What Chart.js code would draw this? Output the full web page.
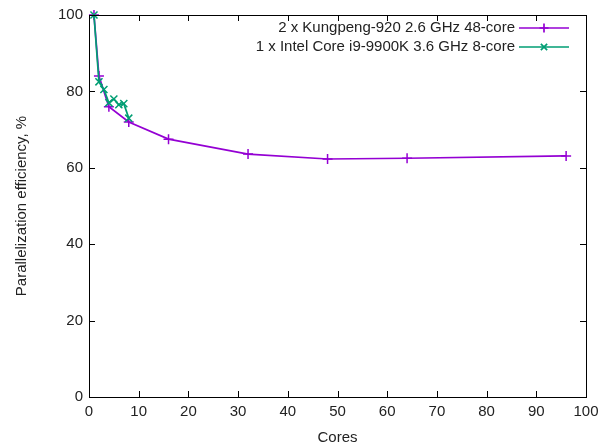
<!DOCTYPE html>
<html>
<head>
<meta charset="utf-8">
<script src="https://cdn.jsdelivr.net/npm/chart.js@4"></script>
<style>
  html, body { margin:0; padding:0; background:#fff; }
  #wrap { width:605px; height:447px; }
</style>
</head>
<body>
<div id="wrap"><canvas id="chart" width="605" height="447"></canvas></div>
<script>
/* ====== データ ====== */
const kpCores = [1, 2, 4, 8, 16, 32, 48, 64, 96];
const kpEff   = [100, 84, 76, 72, 67.5, 63.6, 62.3, 62.5, 63.1];
const intelCores = [1, 2, 3, 4, 5, 6, 7, 8];
const intelEff   = [100, 82.5, 80.5, 77, 78, 76.5, 76.8, 73];
const xTicks = [0, 10, 20, 30, 40, 50, 60, 70, 80, 90, 100];
const yTicks = [0, 20, 40, 60, 80, 100];
const seriesLabels = ['2 x Kungpeng-920 2.6 GHz 48-core', '1 x Intel Core i9-9900K 3.6 GHz 8-core'];

const FONT = 'Liberation Sans, Arial, sans-serif';
const TXT = '#222';
const FS = 15;

/* ====== 枠・内向き目盛り（gnuplot風） ====== */
const framePlugin = {
  id: 'frame',
  afterDatasetsDraw(chart) {
    const { ctx, chartArea: a, scales: { x, y } } = chart;
    const L = 6;
    ctx.save();
    ctx.strokeStyle = '#000'; ctx.lineWidth = 1;
    ctx.strokeRect(a.left + 0.5, a.top + 0.5, a.right - a.left, a.bottom - a.top);
    ctx.beginPath();
    xTicks.forEach(v => {
      const px = Math.round(x.getPixelForValue(v)) + 0.5;
      ctx.moveTo(px, a.bottom); ctx.lineTo(px, a.bottom - L);
      ctx.moveTo(px, a.top); ctx.lineTo(px, a.top + L);
    });
    yTicks.forEach(v => {
      const py = Math.round(y.getPixelForValue(v)) + 0.5;
      ctx.moveTo(a.left, py); ctx.lineTo(a.left + L, py);
      ctx.moveTo(a.right, py); ctx.lineTo(a.right - L, py);
    });
    ctx.stroke();
    ctx.restore();
  },
  afterDraw(chart) {
    // 凡例（右上・右寄せ）
    const { ctx, chartArea: a } = chart;
    ctx.save();
    ctx.font = FS + 'px ' + FONT;
    ctx.textAlign = 'right'; ctx.textBaseline = 'middle';
    chart.data.datasets.forEach((ds, i) => {
      const yy = a.top + 13 + i * 19;
      const x1 = a.right - 67, x2 = a.right - 17;
      ctx.fillStyle = TXT;
      ctx.fillText(ds.label, x1 - 4, yy);
      ctx.strokeStyle = ds.borderColor; ctx.lineWidth = 1.7;
      ctx.beginPath(); ctx.moveTo(x1, yy); ctx.lineTo(x2, yy); ctx.stroke();
      const cx = (x1 + x2) / 2, r = 4.5;
      ctx.beginPath();
      if (ds.pointStyle === 'cross') {
        ctx.moveTo(cx - r, yy); ctx.lineTo(cx + r, yy);
        ctx.moveTo(cx, yy - r); ctx.lineTo(cx, yy + r);
      } else {
        ctx.moveTo(cx - r * 0.7, yy - r * 0.7); ctx.lineTo(cx + r * 0.7, yy + r * 0.7);
        ctx.moveTo(cx - r * 0.7, yy + r * 0.7); ctx.lineTo(cx + r * 0.7, yy - r * 0.7);
      }
      ctx.stroke();
    });
    ctx.restore();
  }
};

new Chart(document.getElementById('chart').getContext('2d'), {
  type: 'line',
  data: {
    datasets: [
      {
        label: seriesLabels[0],
        data: kpCores.map((c, i) => ({ x: c, y: kpEff[i] })),
        borderColor: '#9400d3', backgroundColor: '#9400d3',
        borderWidth: 1.7, pointStyle: 'cross', pointRadius: 5, pointBorderWidth: 1.5,
        tension: 0, clip: false, order: 1
      },
      {
        label: seriesLabels[1],
        data: intelCores.map((c, i) => ({ x: c, y: intelEff[i] })),
        borderColor: '#009e73', backgroundColor: '#009e73',
        borderWidth: 1.7, pointStyle: 'crossRot', pointRadius: 5, pointBorderWidth: 1.5,
        tension: 0, clip: false, order: 0
      }
    ]
  },
  options: {
    responsive: false, animation: false,
    layout: { padding: { top: 12, right: 19, left: 13, bottom: 0 } },
    scales: {
      x: {
        type: 'linear', min: 0, max: 100,
        afterBuildTicks: s => { s.ticks = xTicks.map(v => ({ value: v })); },
        afterFit: s => { s.height = 50; },
        grid: { display: false, drawTicks: false },
        border: { display: false },
        ticks: { color: TXT, font: { family: FONT, size: FS }, padding: 6, maxRotation: 0 },
        title: { display: true, text: 'Cores', color: TXT, font: { family: FONT, size: FS }, padding: { top: 3, bottom: 0 } }
      },
      y: {
        min: 0, max: 100,
        afterBuildTicks: s => { s.ticks = yTicks.map(v => ({ value: v })); },
        afterFit: s => { s.width = 76; },
        grid: { display: false, drawTicks: false },
        border: { display: false },
        ticks: { color: TXT, font: { family: FONT, size: FS }, padding: 6 },
        title: { display: true, text: 'Parallelization efficiency, %', color: TXT, font: { family: FONT, size: FS }, padding: { top: 0, bottom: 8 } }
      }
    },
    plugins: { legend: { display: false }, tooltip: { enabled: false } }
  },
  plugins: [framePlugin]
});
</script>
</body>
</html>
